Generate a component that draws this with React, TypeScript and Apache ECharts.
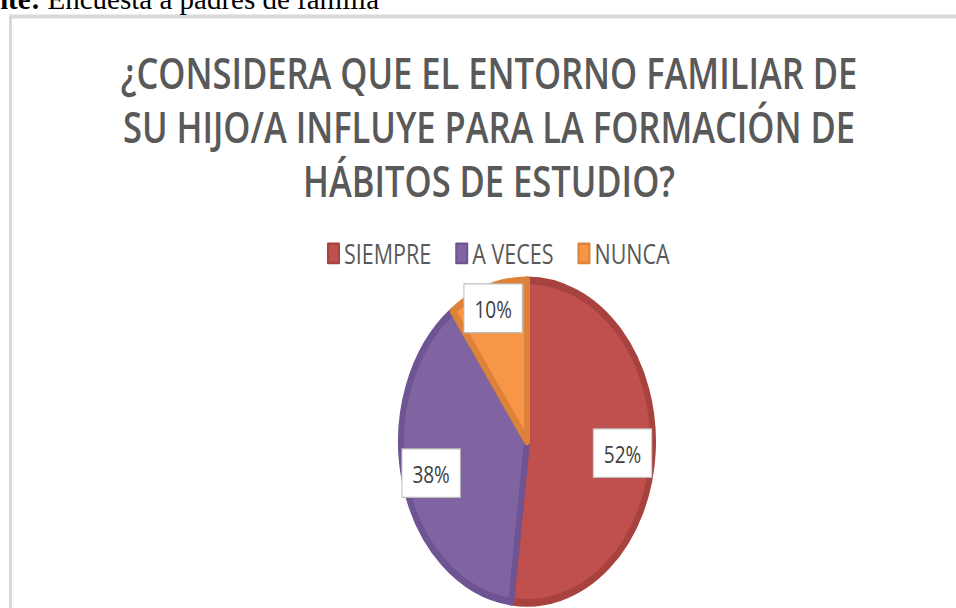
import React, { useEffect, useRef } from "react";
import * as echarts from "echarts";

// ---- data ----
const categories: string[] = ["SIEMPRE", "A VECES", "NUNCA"];
const values: number[] = [52, 38, 10];
const sliceColors: string[] = ["#C0504D", "#8064A2", "#F79646"];
const sliceBorders: string[] = ["#A8423F", "#6E5492", "#DC8239"];
const titleLines: string[] = [
  "¿CONSIDERA QUE EL ENTORNO FAMILIAR DE",
  "SU HIJO/A INFLUYE PARA LA FORMACIÓN DE",
  "HÁBITOS DE ESTUDIO?",
];
const noteBold = "nte:";
const noteText = " Encuesta a padres de familia";

// ---- layout ----
const STRETCH = 1.28; // the picture is stretched vertically
const W = 956;
const H = Math.round(608 / STRETCH);
const CX = 527;
const CY = 345;
const R = 126;
const LABEL_PUSH = [1.45, 1.5, 1.66];

export default function App() {
  const ref = useRef<HTMLDivElement>(null);

  useEffect(() => {
    if (!ref.current) return;
    const chart = echarts.init(ref.current, undefined, { renderer: "svg" });
    chart.setOption({
      animation: false,
      backgroundColor: "#ffffff",
      title: {
        text: titleLines.join("\n"),
        left: 489,
        textAlign: "center",
        top: 35,
        padding: 0,
        textStyle: {
          fontFamily: "Open Sans",
          fontWeight: 600,
          fontSize: 34.5,
          lineHeight: 42.3,
          color: "#595959",
        },
      },
      legend: {
        data: categories,
        left: 327,
        top: 187,
        padding: 0,
        orient: "horizontal",
        icon: "rect",
        itemWidth: 11,
        itemHeight: 15,
        itemGap: 24,
        selectedMode: false,
        textStyle: {
          fontFamily: "Open Sans",
          fontSize: 21.5,
          color: "#595959",
        },
      },
      graphic: [
        {
          type: "rect",
          z: -1,
          silent: true,
          shape: { x: 10.5, y: 12.9, width: 2000, height: 2000 },
          style: { fill: "transparent", stroke: "#D9D9D9", lineWidth: 3 },
        },
        {
          type: "text",
          x: -8,
          y: 13 / STRETCH,
          scaleY: 1 / STRETCH,
          silent: true,
          style: {
            text: "{b|" + noteBold + "}" + noteText,
            font: "29px 'Liberation Serif'",
            fill: "#000000",
            verticalAlign: "bottom",
            rich: {
              b: {
                fontFamily: "Liberation Serif",
                fontWeight: "bold",
                fontSize: 29,
                fill: "#000000",
              },
            },
          },
        },
      ],
      series: [
        {
          type: "pie",
          center: [CX, CY],
          radius: R,
          startAngle: 90,
          clockwise: true,
          silent: true,
          avoidLabelOverlap: false,
          percentPrecision: 0,
          data: categories.map((name, i) => ({
            name,
            value: values[i],
            itemStyle: {
              color: sliceColors[i],
              borderColor: sliceBorders[i],
              borderWidth: 6,
              borderJoin: "round",
            },
          })),
          label: {
            show: true,
            position: "inside",
            formatter: "{d}%",
            fontFamily: "Open Sans",
            fontSize: 19,
            lineHeight: 19,
            color: "#404040",
            backgroundColor: "#ffffff",
            borderColor: "#BFBFBF",
            borderWidth: 1,
            padding: [9, 10],
          },
          labelLine: { show: false },
          labelLayout: (params: any) => {
            const r = params.labelRect;
            const k = LABEL_PUSH[params.dataIndex] ?? 1.5;
            const lx = r.x + r.width / 2;
            const ly = r.y + r.height / 2;
            return {
              dx: (lx - CX) * (k - 1),
              dy: (ly - CY) * (k - 1) + (params.dataIndex === 0 ? 3 : 0),
            };
          },
          emphasis: { disabled: true },
        },
      ],
    });
    return () => chart.dispose();
  }, []);

  return (
    <div
      ref={ref}
      style={{
        position: "fixed",
        left: 0,
        top: 0,
        width: W,
        height: H,
        transform: `scaleY(${STRETCH})`,
        transformOrigin: "0 0",
        background: "#ffffff",
      }}
    />
  );
}
